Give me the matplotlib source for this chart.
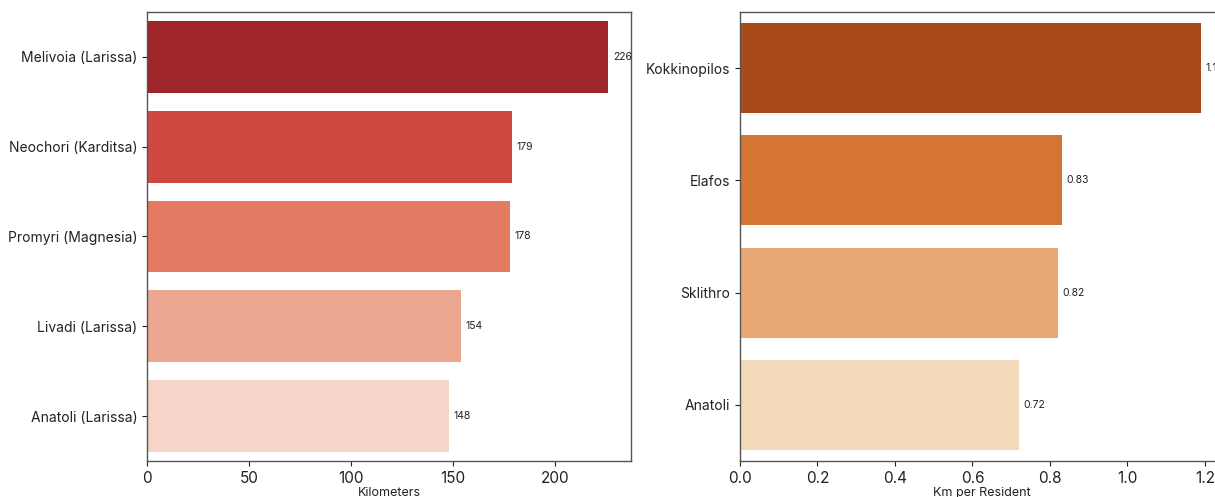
import matplotlib
matplotlib.use("Agg")
import matplotlib.pyplot as plt

# left panel: total road length per village
villages = ["Melivoia (Larissa)", "Neochori (Karditsa)", "Promyri (Magnesia)",
            "Livadi (Larissa)", "Anatoli (Larissa)"]
km = [226, 179, 178, 154, 148]
km_labels = ["226", "179", "178", "154", "148"]

# right panel: km per resident
communities = ["Kokkinopilos", "Elafos", "Sklithro", "Anatoli"]
km_per_res = [1.19, 0.83, 0.82, 0.72]
per_res_labels = ["1.19", "0.83", "0.82", "0.72"]

reds = ["#9e262b", "#cc4840", "#e57a62", "#eca791", "#f6d5c8"]
oranges = ["#a94a1a", "#d57534", "#e9a873", "#f2d9ba"]

plt.rcParams["font.family"] = ["Inter", "DejaVu Sans"]

W, H = 1215, 497
fig = plt.figure(figsize=(W / 100, H / 100), dpi=100)
ax1 = fig.add_axes([147 / W, 36 / H, 484 / W, 449 / H])
ax2 = fig.add_axes([740 / W, 36 / H, 484 / W, 449 / H])


def _panel(ax, names, vals, labels, colors, xlabel):
    bars = ax.barh(names, vals, height=0.8, color=colors)
    ax.bar_label(bars, labels=labels, padding=3.5, fontsize=7.5, color="#222222")
    ax.set_ylim(len(names) - 0.5, -0.5)
    ax.set_xlim(0, max(vals) * 1.05)
    ax.set_xlabel(xlabel, fontsize=9, labelpad=1, color="#222222")
    ax.tick_params(axis="y", labelsize=10, colors="#222222")
    ax.tick_params(axis="x", labelsize=11, colors="#222222")
    for s in ax.spines.values():
        s.set_color("#555555")
        s.set_linewidth(1.0)


_panel(ax1, villages, km, km_labels, reds, "Kilometers")
_panel(ax2, communities, km_per_res, per_res_labels, oranges, "Km per Resident")
ax1.set_xticks([0, 50, 100, 150, 200])
ax2.set_xticks([0.0, 0.2, 0.4, 0.6, 0.8, 1.0, 1.2])

fig.savefig("out.png", dpi=100)
